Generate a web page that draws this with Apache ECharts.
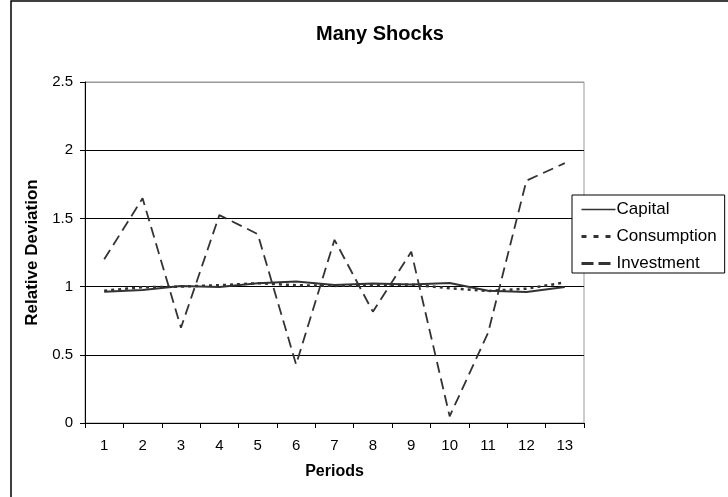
<!DOCTYPE html>
<html>
<head>
<meta charset="utf-8">
<script src="https://cdn.jsdelivr.net/npm/echarts@6/dist/echarts.min.js"></script>
<style>
  html, body { margin: 0; padding: 0; background: #fff; }
  #chart { width: 728px; height: 497px; }
</style>
</head>
<body>
<div id="chart"></div>
<script>
const periods = ['1', '2', '3', '4', '5', '6', '7', '8', '9', '10', '11', '12', '13'];
const capital = [0.963, 0.975, 1.005, 0.997, 1.024, 1.037, 1.012, 1.022, 1.015, 1.027, 0.97, 0.96, 0.997];
const consumption = [0.97, 0.995, 1.0, 1.01, 1.025, 1.01, 1.005, 1.01, 1.015, 0.988, 0.968, 0.985, 1.03];
const investment = [1.2, 1.647, 0.698, 1.524, 1.385, 0.429, 1.343, 0.816, 1.255, 0.049, 0.66, 1.777, 1.905];

const font = 'Liberation Sans, Arial, sans-serif';
const chart = echarts.init(document.getElementById('chart'), null, { renderer: 'canvas' });

chart.setOption({
  animation: false,
  backgroundColor: '#fff',
  title: {
    text: 'Many Shocks',
    left: 375,
    top: 19,
    textAlign: 'center',
    textStyle: { fontFamily: font, fontSize: 20, fontWeight: 'bold', color: '#000' }
  },
  graphic: [{
    type: 'rect',
    shape: { x: 11, y: 1, width: 800, height: 600 },
    style: { fill: 'none', stroke: '#000', lineWidth: 1.5 },
    silent: true
  }],
  legend: {
    orient: 'vertical',
    left: 572,
    top: 195,
    width: 151,
    padding: [6, 8, 1, 8],
    itemGap: 10,
    itemWidth: 34,
    itemHeight: 14,
    borderColor: '#000',
    borderWidth: 1,
    backgroundColor: '#fff',
    itemStyle: { color: 'transparent', borderColor: 'transparent', borderWidth: 0 },
    textStyle: { fontFamily: font, fontSize: 17, color: '#000', padding: [0, 0, 0, -4] },
    data: [
      { name: 'Capital', lineStyle: { width: 1.5, type: 'solid' } },
      { name: 'Consumption', lineStyle: { width: 3, type: [5, 7] } },
      { name: 'Investment', lineStyle: { width: 3, type: [12, 5] } }
    ]
  },
  grid: {
    left: 85, right: 144, top: 82, bottom: 74,
    show: true,
    borderColor: '#999',
    borderWidth: 1
  },
  xAxis: {
    type: 'category',
    data: periods,
    boundaryGap: true,
    name: 'Periods',
    nameLocation: 'middle',
    nameGap: 41,
    nameTextStyle: { fontFamily: font, fontSize: 16, fontWeight: 'bold', color: '#000' },
    axisLine: { lineStyle: { color: '#000', width: 1 } },
    axisTick: { show: true, length: 5, interval: 0, lineStyle: { color: '#000' } },
    axisLabel: { fontFamily: font, fontSize: 15, color: '#000', margin: 15, interval: 0 },
    splitLine: { show: false }
  },
  yAxis: {
    type: 'value',
    min: 0,
    max: 2.5,
    interval: 0.5,
    name: 'Relative Deviation',
    nameLocation: 'middle',
    nameGap: 42,
    nameTextStyle: { fontFamily: font, fontSize: 17, fontWeight: 'bold', color: '#000' },
    axisLine: { show: true, lineStyle: { color: '#000', width: 1 } },
    axisTick: { show: true, length: 5, lineStyle: { color: '#000' } },
    axisLabel: { fontFamily: font, fontSize: 15, color: '#000', margin: 12 },
    splitLine: { show: true, lineStyle: { color: ['#000', '#000', '#000', '#000', '#000', '#999'], width: 1 } }
  },
  series: [
    {
      name: 'Capital',
      type: 'line',
      data: capital,
      symbol: 'none',
      lineStyle: { color: '#333', width: 2, type: 'solid' },
      itemStyle: { color: '#333' }
    },
    {
      name: 'Consumption',
      type: 'line',
      data: consumption,
      symbol: 'none',
      lineStyle: { color: '#333', width: 2.5, type: [3, 4] },
      itemStyle: { color: '#333' }
    },
    {
      name: 'Investment',
      type: 'line',
      data: investment,
      symbol: 'none',
      lineStyle: { color: '#333', width: 1.8, type: [11, 6] },
      itemStyle: { color: '#333' }
    }
  ]
});
</script>
</body>
</html>
